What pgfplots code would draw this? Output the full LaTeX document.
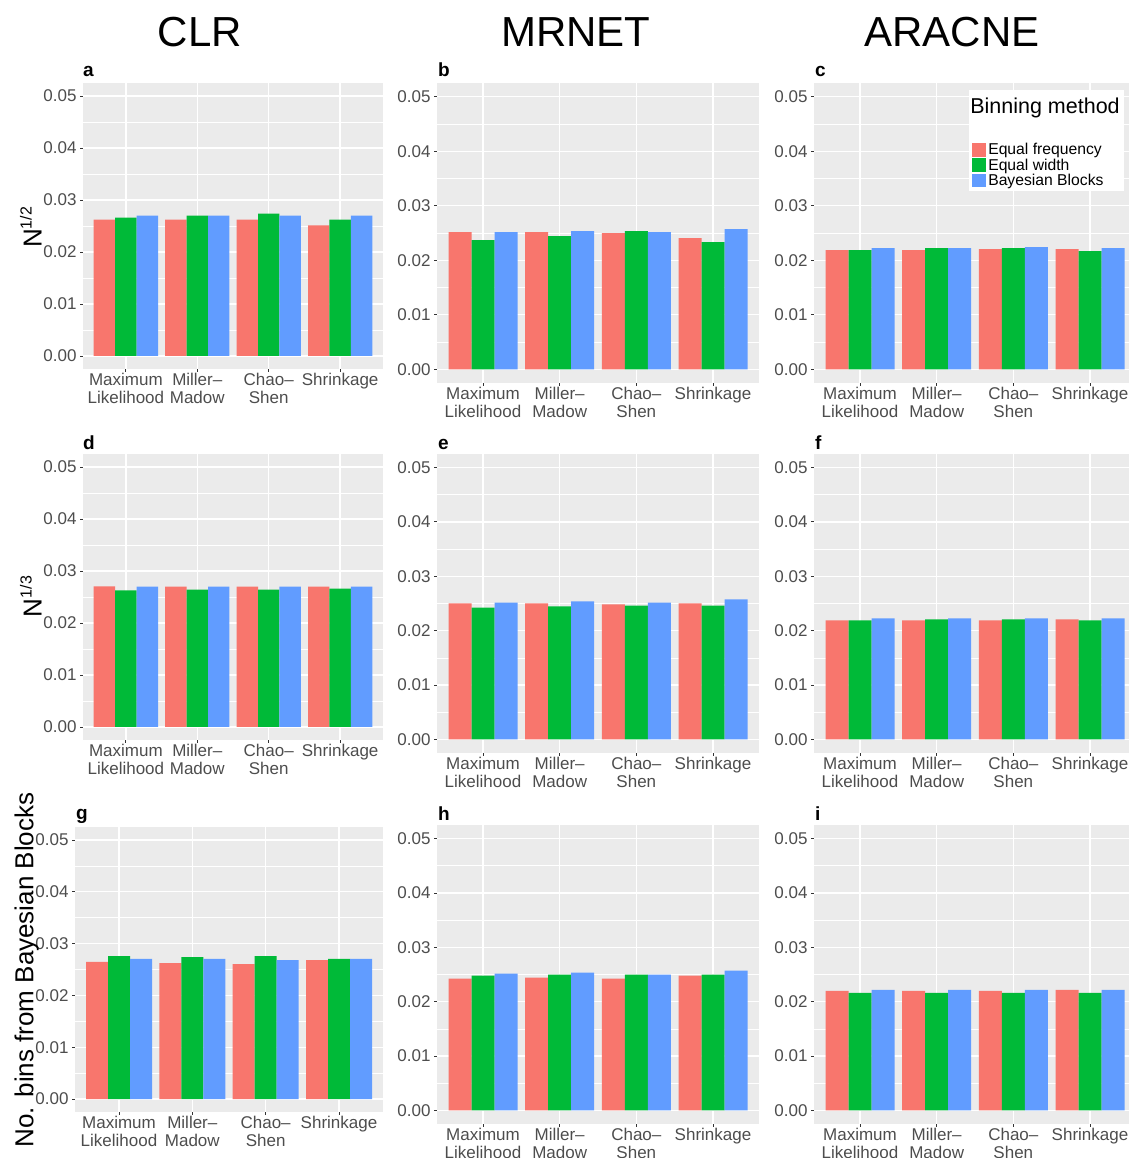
\documentclass[border=0pt]{standalone}
\usepackage{fontspec}
\setmainfont{Liberation Sans}
\usepackage{pgfplots}
\usepackage{pgfplotstable}
\pgfplotsset{compat=1.18}
\definecolor{efc}{HTML}{F8766D}
\definecolor{ewc}{HTML}{00BA38}
\definecolor{bbc}{HTML}{619CFF}
\definecolor{bgc}{HTML}{EBEBEB}
\definecolor{tlc}{HTML}{4D4D4D}
\definecolor{tkc}{HTML}{333333}

\pgfplotstableread{
x ef ew bb
1 0.02621 0.02660 0.02698
2 0.02620 0.02700 0.02700
3 0.02620 0.02737 0.02700
4 0.02513 0.02620 0.02700
}\tabA
\pgfplotstableread{
x ef ew bb
1 0.02515 0.02368 0.02515
2 0.02515 0.02442 0.02534
3 0.02497 0.02534 0.02515
4 0.02405 0.02332 0.02570
}\tabB
\pgfplotstableread{
x ef ew bb
1 0.02185 0.02185 0.02222
2 0.02185 0.02222 0.02222
3 0.02203 0.02222 0.02240
4 0.02203 0.02166 0.02222
}\tabC
\pgfplotstableread{
x ef ew bb
1 0.02702 0.02625 0.02700
2 0.02700 0.02644 0.02700
3 0.02700 0.02644 0.02700
4 0.02700 0.02663 0.02700
}\tabD
\pgfplotstableread{
x ef ew bb
1 0.02500 0.02426 0.02518
2 0.02500 0.02445 0.02537
3 0.02482 0.02463 0.02518
4 0.02500 0.02463 0.02574
}\tabE
\pgfplotstableread{
x ef ew bb
1 0.02188 0.02188 0.02224
2 0.02188 0.02206 0.02224
3 0.02188 0.02206 0.02224
4 0.02206 0.02188 0.02224
}\tabF
\pgfplotstableread{
x ef ew bb
1 0.02645 0.02760 0.02703
2 0.02625 0.02741 0.02703
3 0.02606 0.02760 0.02683
4 0.02683 0.02703 0.02703
}\tabG
\pgfplotstableread{
x ef ew bb
1 0.02423 0.02479 0.02515
2 0.02442 0.02497 0.02534
3 0.02423 0.02497 0.02497
4 0.02479 0.02497 0.02570
}\tabH
\pgfplotstableread{
x ef ew bb
1 0.02200 0.02164 0.02219
2 0.02200 0.02164 0.02219
3 0.02200 0.02164 0.02219
4 0.02219 0.02164 0.02219
}\tabI

\pgfplotsset{
 ggpanel/.style={
  scale only axis,
  ybar, bar width=0.3,
  xmin=0.4, xmax=4.6, ymin=-0.0025, ymax=0.0525,
  scaled y ticks=false,
  xtick={1,2,3,4},
  xticklabels={{Maximum\\Likelihood},{Miller–\\Madow},{Chao–\\Shen},{Shrinkage}},
  ytick={0,0.01,0.02,0.03,0.04,0.05},
  yticklabels={0.00,0.01,0.02,0.03,0.04,0.05},
  minor ytick={0.005,0.015,0.025,0.035,0.045},
  xmajorgrids, ymajorgrids, yminorgrids,
  major grid style={white, line width=1.3pt},
  minor grid style={white, line width=0.6pt},
  axis background/.style={fill=bgc},
  axis line style={draw=none},
  tick align=outside, tick pos=left,
  major tick length=3pt, minor tick length=0pt,
  tick style={tkc, line width=0.9pt},
  tick label style={font=\fontsize{17}{18}\selectfont, text=tlc},
  xticklabel style={align=center, yshift=2pt},
  legend image code/.code={\fill[##1] (0pt,-6.5pt) rectangle (14pt,7pt);},
 }
}

\newcommand{\panel}[5]{%
\begin{axis}[ggpanel, at={(#1pt,#2pt)}, anchor=south west, width=#3pt, height=#4pt]
\addplot[fill=efc, draw=none, bar shift=-0.3] table[x=x,y=ef]{#5};
\addplot[fill=ewc, draw=none, bar shift=0] table[x=x,y=ew]{#5};
\addplot[fill=bbc, draw=none, bar shift=0.3] table[x=x,y=bb]{#5};
\end{axis}
}

\begin{document}
\begin{tikzpicture}
\useasboundingbox (0pt,0pt) rectangle (1128pt,1158pt);

% row 1
\panel{83}{789}{300}{286}{\tabA}
\panel{437}{775}{322}{300}{\tabB}
\begin{axis}[ggpanel, at={(814pt,775pt)}, anchor=south west, width=322pt, height=300pt,
  legend style={at={(axis description cs:0.481,0.976)}, anchor=north west, draw=none, fill=white,
    inner xsep=3pt, inner ysep=3pt, row sep=0pt, column sep=1pt, font=\fontsize{15.7}{15.7}\selectfont,
    nodes={inner sep=1.2pt}, cells={anchor=west}}]
\addlegendimage{legend image code/.code={\path[draw=none,fill=none] (0pt,-38pt) rectangle (14pt,11pt);}}
\addlegendentry{\hspace*{-18pt}\raisebox{-4pt}{\fontsize{21.5}{21.5}\selectfont Binning method}}
\addplot[fill=efc, draw=none, bar shift=-0.3] table[x=x,y=ef]{\tabC};
\addlegendentry{Equal frequency}
\addplot[fill=ewc, draw=none, bar shift=0] table[x=x,y=ew]{\tabC};
\addlegendentry{Equal width}
\addplot[fill=bbc, draw=none, bar shift=0.3] table[x=x,y=bb]{\tabC};
\addlegendentry{Bayesian Blocks}
\end{axis}
% row 2
\panel{83}{418}{300}{286}{\tabD}
\panel{437}{405}{322}{299}{\tabE}
\panel{814}{405}{322}{299}{\tabF}
% row 3
\panel{75}{46}{308}{285}{\tabG}
\panel{437}{34}{322}{299}{\tabH}
\panel{814}{34}{322}{299}{\tabI}

% panel letters
\begin{scope}[every node/.style={anchor=base west, inner sep=0pt, font=\fontsize{19}{19}\selectfont\bfseries}]
\node at (83pt,1081pt) {a};
\node at (438pt,1081pt) {b};
\node at (815pt,1081pt) {c};
\node at (83pt,708pt) {d};
\node at (438pt,708pt) {e};
\node at (815pt,708pt) {f};
\node at (76pt,338pt) {g};
\node at (438pt,337pt) {h};
\node at (815pt,337pt) {i};
\end{scope}

% column titles
\begin{scope}[every node/.style={anchor=base, inner sep=0pt, font=\fontsize{42}{42}\selectfont}]
\node at (200pt,1111pt) {CLR};
\node at (576pt,1111pt) {MRNET};
\node at (952pt,1111pt) {ARACNE};
\end{scope}

% row labels
\node[rotate=90, anchor=base, inner sep=0pt, font=\fontsize{26}{26}\selectfont] at (41.7pt,930.5pt) {N\raisebox{10pt}{\fontsize{16}{16}\selectfont 1/2}};
\node[rotate=90, anchor=base, inner sep=0pt, font=\fontsize{26}{26}\selectfont] at (41.7pt,561.5pt) {N\raisebox{10pt}{\fontsize{16}{16}\selectfont 1/3}};
\node[rotate=90, anchor=base, inner sep=0pt, font=\fontsize{26}{26}\selectfont] at (33.3pt,188pt) {No. bins from Bayesian Blocks};
\end{tikzpicture}
\end{document}
